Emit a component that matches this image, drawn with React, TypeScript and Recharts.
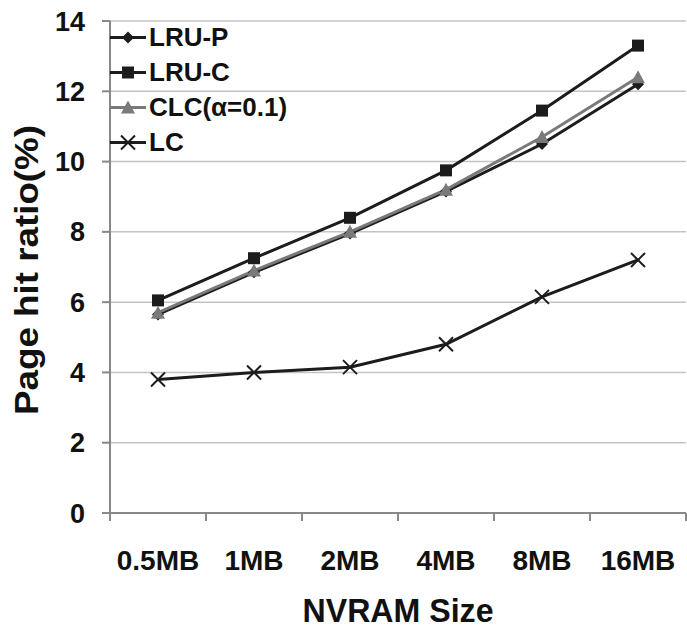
import { LineChart, Line, XAxis, YAxis, CartesianGrid } from 'recharts';

const categories = ['0.5MB', '1MB', '2MB', '4MB', '8MB', '16MB'];
const lruP = [5.65, 6.85, 7.95, 9.15, 10.5, 12.2];
const lruC = [6.05, 7.25, 8.4, 9.75, 11.45, 13.3];
const clc = [5.7, 6.9, 8.0, 9.2, 10.7, 12.4];
const lc = [3.8, 4.0, 4.15, 4.8, 6.15, 7.2];
const yTicks = [0, 2, 4, 6, 8, 10, 12, 14];

const FONT = '"Liberation Sans", Arial, sans-serif';
const W = 687;
const H = 628;
const Y_AXIS_W = 110;
const RIGHT = 1;
const BAND = (W - Y_AXIS_W - RIGHT) / categories.length;
const X_MARGIN = 37;

const data = categories.map((c, i) => ({
  name: c,
  lruP: lruP[i],
  lruC: lruC[i],
  clc: clc[i],
  lc: lc[i],
}));

type Shape = 'diamond' | 'square' | 'triangle' | 'cross';

function Marker({ cx, cy, shape, color }: { cx: number; cy: number; shape: Shape; color: string }) {
  if (shape === 'diamond') {
    return <polygon points={`${cx},${cy - 6} ${cx + 6},${cy} ${cx},${cy + 6} ${cx - 6},${cy}`} fill={color} />;
  }
  if (shape === 'square') {
    return <rect x={cx - 6} y={cy - 6} width={12} height={12} fill={color} />;
  }
  if (shape === 'triangle') {
    return <polygon points={`${cx},${cy - 7} ${cx + 7},${cy + 6} ${cx - 7},${cy + 6}`} fill={color} />;
  }
  return (
    <g stroke={color} strokeWidth={2}>
      <line x1={cx - 7} y1={cy - 7} x2={cx + 7} y2={cy + 7} />
      <line x1={cx - 7} y1={cy + 7} x2={cx + 7} y2={cy - 7} />
    </g>
  );
}

const series: { key: string; name: string; color: string; shape: Shape }[] = [
  { key: 'lruP', name: 'LRU-P', color: '#1c1c1c', shape: 'diamond' },
  { key: 'lruC', name: 'LRU-C', color: '#1c1c1c', shape: 'square' },
  { key: 'clc', name: 'CLC(α=0.1)', color: '#7a7a7a', shape: 'triangle' },
  { key: 'lc', name: 'LC', color: '#1c1c1c', shape: 'cross' },
];

function XTick(props: any) {
  const { x, y, payload, index } = props;
  const axisY = y - X_MARGIN;
  const left = x - BAND / 2;
  return (
    <g>
      <line x1={left} x2={left} y1={axisY} y2={axisY + 8} stroke="#888" strokeWidth={2} />
      {index === categories.length - 1 && (
        <line x1={x + BAND / 2} x2={x + BAND / 2} y1={axisY} y2={axisY + 8} stroke="#888" strokeWidth={2} />
      )}
      <text x={x} y={y} dy="0.71em" textAnchor="middle" fontSize={28} fontWeight="bold" fontFamily={FONT} fill="#111">
        {payload.value}
      </text>
    </g>
  );
}

function XLabel(props: any) {
  const { viewBox } = props;
  const cx = viewBox.x + viewBox.width / 2;
  return (
    <text
      x={cx}
      y={622}
      textAnchor="middle"
      fontSize={34}
      textLength={191}
      lengthAdjust="spacingAndGlyphs"
      fontWeight="bold"
      fontFamily={FONT}
      fill="#111"
    >
      NVRAM Size
    </text>
  );
}

function YLabel() {
  const cy = 270;
  const cx = 26;
  return (
    <text
      x={cx}
      y={cy}
      transform={`rotate(-90, ${cx}, ${cy})`}
      textAnchor="middle"
      dominantBaseline="central"
      fontSize={33}
      textLength={290}
      lengthAdjust="spacingAndGlyphs"
      fontWeight="bold"
      fontFamily={FONT}
      fill="#111"
    >
      Page hit ratio(%)
    </text>
  );
}

export default function App() {
  return (
    <div style={{ position: 'absolute', left: 0, top: 0, width: W, height: H, background: '#fff' }}>
      <LineChart width={W} height={H} data={data} margin={{ top: 21, right: RIGHT, left: 0, bottom: 0 }}>
        <CartesianGrid vertical={false} stroke="#c4c4c4" strokeWidth={1.5} />
        <XAxis
          dataKey="name"
          height={115}
          padding={{ left: BAND / 2, right: BAND / 2 }}
          tickLine={false}
          tickSize={0}
          tickMargin={X_MARGIN}
          interval={0}
          tick={<XTick />}
          axisLine={{ stroke: '#888', strokeWidth: 2 }}
          label={<XLabel />}
        />
        <YAxis
          width={Y_AXIS_W}
          domain={[0, 14]}
          ticks={yTicks}
          interval={0}
          tickSize={8}
          tickMargin={17}
          tickLine={{ stroke: '#888', strokeWidth: 2 }}
          axisLine={{ stroke: '#888', strokeWidth: 2 }}
          tick={{ fontSize: 27, fontWeight: 'bold', fontFamily: FONT, fill: '#111' }}
          label={<YLabel />}
        />
        {series.map((s) => (
          <Line
            key={s.key}
            dataKey={s.key}
            name={s.name}
            stroke={s.color}
            strokeWidth={3}
            isAnimationActive={false}
            dot={(p: any) => <Marker key={`${s.key}-${p.index}`} cx={p.cx} cy={p.cy} shape={s.shape} color={s.color} />}
            activeDot={false}
          />
        ))}
      </LineChart>
      <div style={{ position: 'absolute', left: 110, top: 20, fontFamily: FONT }}>
        {series.map((s) => (
          <div key={s.key} style={{ display: 'flex', alignItems: 'center', height: 35 }}>
            <svg width={39} height={35}>
              <line x1={0} x2={36} y1={17.5} y2={17.5} stroke={s.color} strokeWidth={3} />
              <Marker cx={18} cy={17.5} shape={s.shape} color={s.color} />
            </svg>
            <span style={{ fontSize: 26, fontWeight: 'bold', color: '#111', lineHeight: '35px' }}>{s.name}</span>
          </div>
        ))}
      </div>
    </div>
  );
}
